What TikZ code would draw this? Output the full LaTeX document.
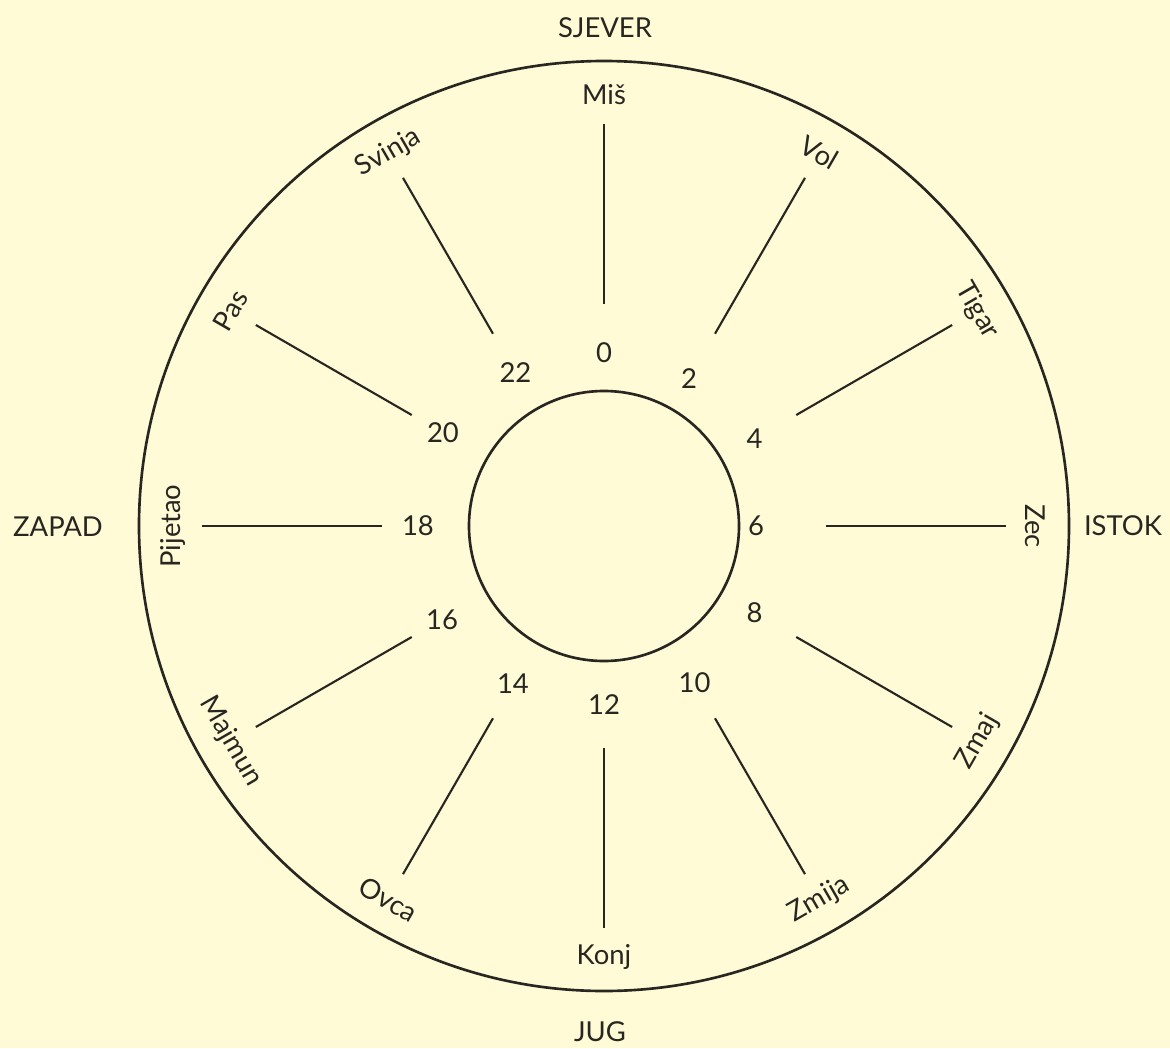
\documentclass[tikz,border=0pt]{standalone}
\usepackage{fontspec}
\setmainfont{Lato}
\definecolor{paper}{RGB}{254,251,214}
\definecolor{ink}{RGB}{40,38,32}
\begin{document}
\begin{tikzpicture}[x=0.01cm, y=0.01cm, font=\fontsize{7.8}{10}\selectfont, text=ink,
    rim/.style={draw=ink, line width=0.75pt},
    spoke/.style={draw=ink, line width=0.6pt}]
    % podloga
    \fill[paper] (-604,-522) rectangle (566,526);
    \useasboundingbox (-604,-522) rectangle (566,526);

    % krugovi
    \draw[rim] (0,0) circle (465);
    \draw[rim] (0,0) circle (135);

    % strane svijeta
    \node (sjever) at (1,498) {SJEVER};
    \node (jug) at (-4,-506) {JUG};
    \node (zapad) at (-546,-1) {ZAPAD};
    \node (istok) at (519,0) {ISTOK};

    % zivotinje i sati
    \foreach \ang/\hr/\hrad/\name in {90/0/173/Miš, 60/2/170/Vol, 30/4/174/Tigar,
        0/6/152/Zec, -30/8/174/Zmaj, -60/10/181/Zmija, -90/12/179/Konj,
        -120/14/182/Ovca, -150/16/187/Majmun, 180/18/186/Pijetao,
        150/20/186/Pas, 120/22/177/Svinja} {
        \pgfmathsetmacro{\rot}{\ang<0 ? \ang+90 : \ang-90}
        \node[rotate=\rot] (z\hr) at (\ang:431) {\name};
        \coordinate (a\hr) at (\ang:222);
        \coordinate (b\hr) at (\ang:402);
        \draw[spoke] (a\hr) -- (b\hr);
        \node (h\hr) at (\ang:\hrad) {\hr};
    }
\end{tikzpicture}
\end{document}
